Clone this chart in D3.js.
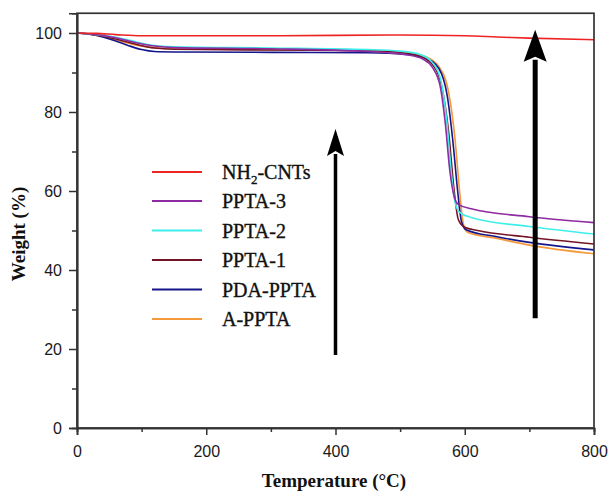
<!DOCTYPE html>
<html>
<head>
<meta charset="utf-8">
<script src="https://cdn.jsdelivr.net/npm/d3@7"></script>
<style>
  body { margin: 0; background: #fff; }
  svg { display: block; }
</style>
</head>
<body>
<svg id="chart" width="609" height="491"></svg>
<script>
// TGA curves: [temperature °C, weight %]
const nh2Cnts = [[0,100],[30,99.9],[60,99.6],[100,99.3],[200,99.3],[300,99.3],[400,99.4],[500,99.5],[600,99.3],[650,99.0],[700,98.7],[800,98.3]];
const ppta3   = [[0,100],[30,99.6],[60,98.8],[90,97.6],[120,96.7],[150,96.3],[300,96.0],[450,95.3],[480,95.0],[510,94.5],[535,93.4],[550,91.3],[562,86.5],[570,77],[577,65],[583,59],[590,56.6],[610,55.5],[700,53.5],[800,52.0]];
const ppta2   = [[0,100],[30,99.6],[60,98.9],[90,97.8],[120,96.8],[150,96.5],[300,96.2],[450,95.8],[500,95.4],[530,94.6],[550,92.5],[563,88],[572,78],[579,65],[585,57.2],[592,54.6],[610,53.3],[700,51.0],[800,49.1]];
const ppta1   = [[0,100],[30,99.5],[60,98.5],[90,97.2],[120,96.2],[150,95.9],[300,95.7],[450,95.5],[500,95.1],[530,94.2],[550,92.0],[565,86],[575,75],[583,61],[590,52.8],[600,50.8],[620,50.0],[700,48.3],[800,46.6]];
const pdaPpta = [[0,100],[20,99.7],[40,99.0],[60,98.0],[80,96.8],[100,95.8],[120,95.3],[150,95.2],[300,95.1],[450,95.0],[510,94.6],[540,93.6],[560,91.0],[573,84],[582,72],[589,60],[595,52.2],[602,50.2],[650,48.4],[700,47.0],[800,45.1]];
const aPpta   = [[0,100],[30,99.4],[60,98.3],[90,97.0],[120,96.3],[150,96.0],[300,95.8],[450,95.5],[510,95.0],[540,94.0],[560,91.5],[575,85],[585,73],[592,60],[598,51.6],[605,49.5],[650,48.0],[700,46.3],[800,44.1]];

const seriesNames  = ["NH2-CNTs", "PPTA-3", "PPTA-2", "PPTA-1", "PDA-PPTA", "A-PPTA"];
const seriesData   = [nh2Cnts, ppta3, ppta2, ppta1, pdaPpta, aPpta];
const seriesColors = ["#ec2424", "#8e2ba2", "#3eeeea", "#741424", "#16168c", "#f49a3a"];

const xMajorTicks = [0, 200, 400, 600, 800];
const xMinorTicks = [100, 300, 500, 700];
const yMajorTicks = [0, 20, 40, 60, 80, 100];
const yMinorTicks = [10, 30, 50, 70, 90];

// annotation arrows: [temperature, weight at tail, weight at tip]
const arrowsSpec = [[400, 18.5, 75.7], [709, 27.8, 100.8]];

const svg = d3.select("#chart");
const plotLeft = 77, plotRight = 594, plotTop = 13.25, plotBottom = 428;

const x = d3.scaleLinear().domain([0, 800]).range([plotLeft, plotRight]);
const y = d3.scaleLinear().domain([0, 105]).range([plotBottom, plotTop]);

const sans = "'Liberation Sans', Arial, sans-serif";
const serif = "'Liberation Serif', 'Times New Roman', serif";

// curves (draw from back to front)
const line = d3.line().x(d => x(d[0])).y(d => y(d[1])).curve(d3.curveMonotoneX);
const order = [5, 4, 3, 2, 1, 0];
svg.append("g").selectAll("path")
  .data(order)
  .join("path")
  .attr("d", i => line(seriesData[i]))
  .attr("fill", "none")
  .attr("stroke", i => seriesColors[i])
  .attr("stroke-width", 1.6);

// frame
svg.append("rect")
  .attr("x", plotLeft).attr("y", plotTop)
  .attr("width", plotRight - plotLeft).attr("height", plotBottom - plotTop)
  .attr("fill", "none").attr("stroke", "#333").attr("stroke-width", 1.7);

// axes
const xAxis = svg.append("g").attr("transform", `translate(0,${plotBottom})`)
  .call(d3.axisBottom(x).tickValues(xMajorTicks).tickSize(7).tickPadding(11).tickFormat(d3.format("d")));
const xMinor = svg.append("g").attr("transform", `translate(0,${plotBottom})`)
  .call(d3.axisBottom(x).tickValues(xMinorTicks).tickSize(4).tickFormat(""));
const yAxis = svg.append("g").attr("transform", `translate(${plotLeft},0)`)
  .call(d3.axisLeft(y).tickValues(yMajorTicks).tickSize(8).tickPadding(7).tickFormat(d3.format("d")));
const yMinor = svg.append("g").attr("transform", `translate(${plotLeft},0)`)
  .call(d3.axisLeft(y).tickValues(yMinorTicks).tickSize(5).tickFormat(""));

[xAxis, xMinor, yAxis, yMinor].forEach(g => {
  g.select(".domain").attr("stroke", "#333").attr("stroke-width", 1.7);
  g.selectAll(".tick line").attr("stroke", "#333").attr("stroke-width", 1.5);
  g.selectAll(".tick text").attr("fill", "#1a1a1a").style("font-family", sans).style("font-size", "16px");
});

// axis titles
svg.append("text")
  .attr("x", 334).attr("y", 487)
  .attr("text-anchor", "middle")
  .style("font-family", serif).style("font-size", "19px").style("font-weight", "bold").attr("fill", "#111")
  .text("Temperature (°C)");
svg.append("text")
  .attr("transform", "translate(25,234) rotate(-90)")
  .attr("text-anchor", "middle")
  .style("font-family", serif).style("font-size", "19px").style("font-weight", "bold").attr("fill", "#111")
  .text("Weight (%)");

// arrows
arrowsSpec.forEach(([t, w0, w1], k) => {
  const ax = x(t), y0 = y(w0), yt = y(w1);
  const headLen = k === 0 ? 27 : 32;
  const headHalf = k === 0 ? 8.5 : 11.5;
  const shaft = k === 0 ? 3.5 : 5;
  svg.append("line")
    .attr("x1", ax).attr("x2", ax)
    .attr("y1", y0).attr("y2", yt + headLen - 2)
    .attr("stroke", "#000").attr("stroke-width", shaft);
  svg.append("path")
    .attr("d", `M${ax},${yt} L${ax - headHalf},${yt + headLen} L${ax},${yt + headLen - 5} L${ax + headHalf},${yt + headLen} Z`)
    .attr("fill", "#000");
});

// legend
const legendY = [172, 201, 230.5, 260, 289.5, 319];
const legend = svg.append("g");
seriesNames.forEach((name, i) => {
  legend.append("line")
    .attr("x1", 152).attr("x2", 202)
    .attr("y1", legendY[i]).attr("y2", legendY[i])
    .attr("stroke", seriesColors[i]).attr("stroke-width", 1.8);
  const t = legend.append("text")
    .attr("x", 222).attr("y", legendY[i] + 7)
    .style("font-family", serif).style("font-size", "20px")
    .attr("fill", "#111").attr("stroke", "#111").attr("stroke-width", 0.35);
  if (name === "NH2-CNTs") {
    t.append("tspan").text("NH");
    t.append("tspan").attr("dy", 5).style("font-size", "13px").text("2");
    t.append("tspan").attr("dy", -5).text("-CNTs");
  } else {
    t.text(name);
  }
});
</script>
</body>
</html>
